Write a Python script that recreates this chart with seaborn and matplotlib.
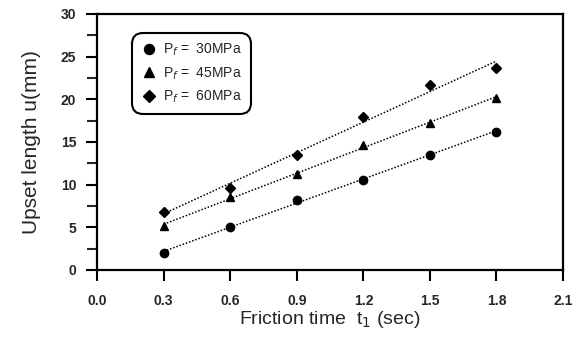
import numpy as np
import pandas as pd
import matplotlib
matplotlib.use("Agg")
import matplotlib.pyplot as plt
from matplotlib.ticker import MultipleLocator
import seaborn as sns

# friction time (sec)
time = [0.3, 0.6, 0.9, 1.2, 1.5, 1.8]
# upset length (mm) per friction pressure
u_30 = [2.0, 5.0, 8.2, 10.6, 13.5, 16.2]
u_45 = [5.1, 8.6, 11.3, 14.6, 17.2, 20.2]
u_60 = [6.8, 9.6, 13.5, 17.9, 21.7, 23.7]
labels = ["P$_f$ =  30MPa", "P$_f$ =  45MPa", "P$_f$ =  60MPa"]
x_ticks = [0.0, 0.3, 0.6, 0.9, 1.2, 1.5, 1.8, 2.1]
markers = ["o", "^", "D"]
sizes = [6, 5.5, 5]

sns.set_style("ticks")
plt.rcParams["font.family"] = ["Liberation Sans", "DejaVu Sans"]

fig = plt.figure(figsize=(5.75, 3.46), dpi=100)
ax = fig.add_axes([0.169, 0.2197, 0.81, 0.74])

for series, lab, mk, ms in zip([u_30, u_45, u_60], labels, markers, sizes):
    df = pd.DataFrame({"t": time, "u": series})
    sns.regplot(data=df, x="t", y="u", ci=None, scatter=False, truncate=True, ax=ax,
                line_kws=dict(color="black", linestyle=(0, (1, 1.2)), linewidth=1.1))
    ax.plot(df["t"], df["u"], linestyle="none", marker=mk, markersize=ms,
            color="black", label=lab)

ax.set_xlim(0, 2.1)
ax.set_ylim(0, 30)
ax.set_xticks(x_ticks)
ax.set_xticklabels([f"{v:.1f}" for v in x_ticks])
ax.yaxis.set_major_locator(MultipleLocator(5))
ax.yaxis.set_minor_locator(MultipleLocator(2.5))
for lbl in ax.get_xticklabels() + ax.get_yticklabels():
    lbl.set_fontweight("bold")
ax.tick_params(axis="both", which="major", direction="out", length=8, width=1.5,
               labelsize=10, color="black")
ax.tick_params(axis="x", pad=9)
ax.tick_params(axis="y", pad=7)
ax.tick_params(axis="y", which="minor", direction="out", length=7, width=1.5)
for s in ax.spines.values():
    s.set_linewidth(1.6)
    s.set_color("black")

ax.set_xlabel("Friction time  t$_1$ (sec)", fontsize=14, labelpad=1)
ax.set_ylabel("Upset length u(mm)", fontsize=15, labelpad=14)

leg = ax.legend(loc="upper left", bbox_to_anchor=(0.08, 0.915), frameon=True,
                fontsize=10, handletextpad=0.4, labelspacing=0.5, borderpad=0.45,
                handlelength=1.2, markerscale=1.2, fancybox=True, borderaxespad=0)
leg.get_frame().set_edgecolor("black")
leg.get_frame().set_linewidth(1.5)
leg.get_frame().set_alpha(1)
leg.get_frame().set_boxstyle("round", pad=0.2, rounding_size=0.8)

fig.savefig("out.png", dpi=100)
